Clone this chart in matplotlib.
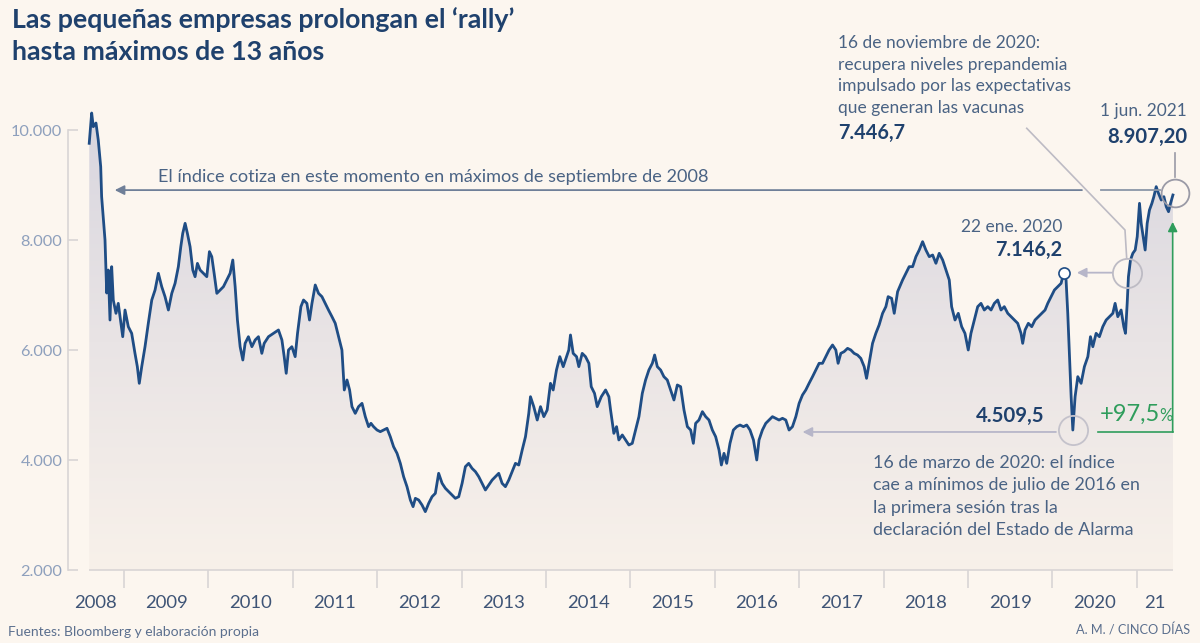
import numpy as np
import matplotlib.pyplot as plt
from matplotlib.colors import LinearSegmentedColormap

plt.rcParams['font.family'] = ['Lato', 'DejaVu Sans']

#%% datos (año decimal, valor del indice)
fechas_08_11 = [2008.588, 2008.617, 2008.636, 2008.668, 2008.695, 2008.724, 2008.735, 2008.775, 2008.795, 2008.814,
                2008.834, 2008.854, 2008.873, 2008.905, 2008.932, 2008.953, 2008.985, 2009.012, 2009.051, 2009.091,
                2009.130, 2009.158, 2009.181, 2009.210, 2009.249, 2009.288, 2009.329, 2009.368, 2009.407, 2009.447,
                2009.486, 2009.526, 2009.566, 2009.605, 2009.644, 2009.673, 2009.696, 2009.724, 2009.751, 2009.783,
                2009.815, 2009.842, 2009.870, 2009.902, 2009.941, 2009.981, 2010.012, 2010.040, 2010.068, 2010.100,
                2010.139, 2010.178, 2010.218, 2010.257, 2010.289, 2010.317, 2010.344, 2010.376, 2010.408, 2010.435,
                2010.474, 2010.515, 2010.554, 2010.593, 2010.633, 2010.661, 2010.712, 2010.771, 2010.830, 2010.871,
                2010.898, 2010.922, 2010.949, 2010.989, 2011.028, 2011.056, 2011.096, 2011.127, 2011.167, 2011.198,
                2011.227, 2011.266, 2011.305, 2011.345, 2011.384, 2011.423, 2011.464, 2011.503]
valores_08_11 = [9758, 10309, 10060, 10127, 9818, 9333, 8788, 8000, 7036, 7454,
                 6545, 7515, 6909, 6667, 6848, 6606, 6242, 6727, 6424, 6303,
                 5940, 5697, 5394, 5697, 6060, 6485, 6909, 7091, 7394, 7151,
                 6970, 6727, 7030, 7212, 7515, 7878, 8121, 8303, 8121, 7878,
                 7454, 7333, 7575, 7454, 7394, 7333, 7788, 7697, 7394, 7030,
                 7091, 7151, 7272, 7394, 7636, 7151, 6545, 6060, 5818, 6121,
                 6242, 6060, 6182, 6242, 5939, 6121, 6242, 6303, 6364, 6182,
                 5879, 5576, 6000, 6060, 5879, 6303, 6788, 6909, 6848, 6545,
                 6848, 7182, 7030, 6970, 6848, 6727, 6606, 6485]

fechas_11_14 = [2011.542, 2011.582, 2011.610, 2011.642, 2011.673, 2011.701, 2011.740, 2011.779, 2011.820, 2011.859,
                2011.898, 2011.926, 2011.957, 2011.998, 2012.037, 2012.076, 2012.116, 2012.155, 2012.194, 2012.235,
                2012.274, 2012.313, 2012.353, 2012.393, 2012.425, 2012.452, 2012.491, 2012.531, 2012.570, 2012.610,
                2012.650, 2012.689, 2012.728, 2012.769, 2012.808, 2012.847, 2012.887, 2012.926, 2012.966, 2013.006,
                2013.045, 2013.084, 2013.124, 2013.164, 2013.203, 2013.243, 2013.282, 2013.321, 2013.362, 2013.401,
                2013.440, 2013.480, 2013.519, 2013.559, 2013.599, 2013.638, 2013.677, 2013.718, 2013.757, 2013.796,
                2013.816, 2013.855, 2013.896, 2013.935, 2013.974, 2014.014, 2014.053, 2014.085, 2014.124, 2014.164,
                2014.204, 2014.243, 2014.270, 2014.290, 2014.322, 2014.362, 2014.389, 2014.429, 2014.468, 2014.508,
                2014.536, 2014.575, 2014.607, 2014.655, 2014.706, 2014.745, 2014.765]
valores_11_14 = [6242, 6000, 5273, 5455, 5273, 4970, 4848, 4970, 5030, 4788,
                 4606, 4667, 4606, 4545, 4515, 4545, 4576, 4424, 4242, 4121,
                 3939, 3697, 3515, 3273, 3152, 3303, 3273, 3182, 3061, 3212,
                 3333, 3394, 3758, 3576, 3485, 3424, 3364, 3303, 3333, 3576,
                 3879, 3939, 3848, 3788, 3697, 3576, 3455, 3545, 3636, 3697,
                 3758, 3576, 3515, 3636, 3788, 3939, 3909, 4182, 4424, 4848,
                 5151, 4970, 4727, 4970, 4788, 4909, 5394, 5273, 5636, 5879,
                 5697, 5879, 6000, 6273, 5939, 5879, 5697, 5939, 5879, 5758,
                 5333, 5212, 4970, 5151, 5273, 5151, 4909]

fechas_14_17 = [2014.804, 2014.836, 2014.863, 2014.904, 2014.943, 2014.982, 2015.022, 2015.061, 2015.101, 2015.141,
                2015.180, 2015.219, 2015.260, 2015.287, 2015.319, 2015.358, 2015.397, 2015.437, 2015.477, 2015.516,
                2015.556, 2015.595, 2015.635, 2015.675, 2015.714, 2015.746, 2015.773, 2015.812, 2015.853, 2015.892,
                2015.931, 2015.971, 2016.010, 2016.050, 2016.078, 2016.109, 2016.141, 2016.180, 2016.220, 2016.260,
                2016.299, 2016.339, 2016.378, 2016.417, 2016.458, 2016.497, 2016.524, 2016.564, 2016.604, 2016.643,
                2016.683, 2016.722, 2016.761, 2016.802, 2016.841, 2016.880, 2016.920, 2016.960, 2016.999, 2017.039,
                2017.078, 2017.117, 2017.158, 2017.197, 2017.236, 2017.276, 2017.315, 2017.354, 2017.395, 2017.434,
                2017.461, 2017.493, 2017.532, 2017.573, 2017.612, 2017.651, 2017.691, 2017.730, 2017.770, 2017.798,
                2017.829, 2017.869, 2017.908, 2017.947, 2017.988, 2018.027, 2018.054, 2018.095, 2018.126, 2018.166]
valores_14_17 = [4485, 4606, 4364, 4455, 4364, 4273, 4303, 4545, 4788, 5212,
                 5455, 5636, 5758, 5909, 5697, 5636, 5515, 5455, 5273, 5091,
                 5364, 5333, 4909, 4606, 4545, 4303, 4667, 4727, 4879, 4788,
                 4727, 4545, 4424, 4182, 3909, 4121, 3939, 4303, 4545, 4606,
                 4636, 4606, 4636, 4545, 4364, 4000, 4364, 4545, 4667, 4727,
                 4788, 4758, 4727, 4758, 4727, 4545, 4606, 4788, 5030, 5182,
                 5273, 5394, 5515, 5636, 5758, 5758, 5879, 6000, 6091, 6000,
                 5758, 5939, 5970, 6030, 6000, 5939, 5909, 5848, 5697, 5485,
                 5758, 6121, 6303, 6455, 6667, 6788, 6970, 6939, 6667, 7061]

fechas_18_21 = [2018.225, 2018.264, 2018.303, 2018.344, 2018.383, 2018.422, 2018.462, 2018.501, 2018.541, 2018.581,
                2018.620, 2018.659, 2018.700, 2018.739, 2018.778, 2018.806, 2018.846, 2018.885, 2018.925, 2018.964,
                2019.003, 2019.035, 2019.075, 2019.115, 2019.154, 2019.193, 2019.234, 2019.273, 2019.312, 2019.352,
                2019.391, 2019.430, 2019.471, 2019.510, 2019.549, 2019.589, 2019.628, 2019.648, 2019.676, 2019.715,
                2019.755, 2019.794, 2019.834, 2019.874, 2019.913, 2019.945, 2019.984, 2020.024, 2020.064, 2020.103,
                2020.135, 2020.162, 2020.182, 2020.201, 2020.222, 2020.242, 2020.269, 2020.301, 2020.340, 2020.379,
                2020.420, 2020.451, 2020.479, 2020.518, 2020.557, 2020.597, 2020.637, 2020.676, 2020.716, 2020.743,
                2020.775, 2020.814, 2020.846, 2020.866, 2020.886, 2020.901, 2020.925, 2020.953, 2020.981, 2021.005,
                2021.032, 2021.052, 2021.075, 2021.099, 2021.123, 2021.150, 2021.179, 2021.202, 2021.230, 2021.257,
                2021.290, 2021.321, 2021.349, 2021.376, 2021.400, 2021.428]
valores_18_21 = [7273, 7394, 7515, 7515, 7697, 7818, 7970, 7818, 7697, 7727,
                 7576, 7758, 7636, 7455, 7273, 6788, 6545, 6667, 6424, 6303,
                 6000, 6303, 6545, 6788, 6848, 6727, 6788, 6727, 6848, 6909,
                 6727, 6788, 6667, 6606, 6545, 6485, 6303, 6121, 6364, 6485,
                 6424, 6545, 6606, 6667, 6727, 6848, 6970, 7091, 7152, 7212,
                 7406, 7273, 6667, 5939, 5152, 4545, 5152, 5515, 5394, 5697,
                 5879, 6242, 6060, 6303, 6242, 6424, 6545, 6606, 6667, 6848,
                 6606, 6727, 6424, 6303, 6848, 7333, 7636, 7758, 7818, 8061,
                 8667, 8303, 8061, 7818, 8303, 8545, 8667, 8788, 8970, 8848,
                 8727, 8788, 8606, 8515, 8667, 8818]

etiquetas_anios = ['2008', '2009', '2010', '2011', '2012', '2013', '2014',
                   '2015', '2016', '2017', '2018', '2019', '2020', '21']
ticks_y = [2000, 4000, 6000, 8000, 10000]

nivel_sep_2008 = 8907.2     # 1 jun. 2021
nivel_nov_2020 = 7406       # nivel donde se marca la recuperacion
fecha_nov_2020 = 2020.880

fechas = np.array(fechas_08_11 + fechas_11_14 + fechas_14_17 + fechas_18_21)
valores = np.array(valores_08_11 + valores_11_14 + valores_14_17 + valores_18_21, dtype=float)

#%% colores
FONDO = '#fcf6ef'
AZUL = '#1f4d85'
TITULO = '#1f416d'
TEXTO = '#4a6384'
GRIS = '#d9d5d5'
FLECHA = '#b7b6c9'
VERDE = '#2f9d5c'

W, H = 1200, 643
fig = plt.figure(figsize=(W / 100, H / 100), dpi=100, facecolor=FONDO)

def fx(x):
    return x / W

def fy(y):
    return 1 - y / H

# eje: px 60..1190 horizontal, px 100..600 vertical
ax = fig.add_axes([fx(60), fy(600), (1190 - 60) / W, 500 / H])
ax.set_facecolor(FONDO)
px_anio = 84.4
ax.set_xlim(2009 + (60 - 124) / px_anio, 2009 + (1190 - 124) / px_anio)
v_px = 2000 / 110
ax.set_ylim(10000 - 470 * v_px, 10000 + 30 * v_px)

# relleno degradado bajo la linea
poly = ax.fill_between(fechas, valores, 2000, facecolor='none', edgecolor='none')
cmap = LinearSegmentedColormap.from_list('deg', ['#f8f1ea', '#e9e4e5', '#d8d6df'])
grad = np.linspace(0, 1, 256).reshape(-1, 1)
im = ax.imshow(grad, cmap=cmap, aspect='auto', origin='lower',
               extent=[fechas[0], fechas[-1], 2000, valores.max()], zorder=1)
im.set_clip_path(poly.get_paths()[0], transform=ax.transData)

ax.plot(fechas, valores, color=AZUL, lw=2.0, zorder=3, solid_joinstyle='round')

# ejes
for s in ['top', 'right', 'bottom']:
    ax.spines[s].set_visible(False)
ax.spines['left'].set_position(('axes', 8 / 1130))
ax.spines['left'].set_bounds(2000, 10000)
ax.spines['left'].set_color(GRIS)
ax.spines['left'].set_linewidth(1.2)
ax.set_yticks(ticks_y)
ax.set_yticklabels([f'{v:,}'.replace(',', '.') for v in ticks_y])
ax.tick_params(axis='y', direction='in', length=7, width=1.2, color=GRIS,
               labelcolor='#8ea0bd', labelsize=11.8, pad=4)
ax.set_xticks([])

ax.hlines(2000, fechas[0], fechas[-1], color=GRIS, lw=1.2, zorder=2)
xt = ax.get_xaxis_transform()
limites = np.arange(2009, 2022)
ax.vlines(limites, 0.024, 0.06, transform=xt, color=GRIS, lw=1.2)
pos_etq = [2008.66] + list(np.arange(2009, 2021) + 0.5) + [2021.22]
for p, e in zip(pos_etq, etiquetas_anios):
    ax.text(p, -0.006, e, transform=xt, ha='center', va='center',
            fontsize=13.3, color='#3e5476')

#%% anotaciones
# flecha horizontal a maximos de sep. 2008
ax.annotate('', xy=(2008.89, nivel_sep_2008), xytext=(2020.35, nivel_sep_2008),
            arrowprops=dict(arrowstyle='-|>', color='#6f7f98', lw=1.3, mutation_scale=14,
                            shrinkA=0, shrinkB=0), zorder=4)
ax.plot([2020.57, 2021.28], [nivel_sep_2008] * 2, color='#8a96a8', lw=1.3, zorder=4)
fig.text(fx(158), fy(177), 'El índice cotiza en este momento en máximos de septiembre de 2008',
         fontsize=13.1, color=TEXTO, va='center')

# circulo final
ax.plot(fechas[-1] + 0.02, nivel_sep_2008 - 50, 'o', ms=20, mfc='none', mec='#9a9aa6', mew=1.3, zorder=5)
ax.plot([fechas[-1] + 0.02] * 2, [9580, 9140], color='#9a9aa6', lw=1.2)
fig.text(fx(1187), fy(111), '1 jun. 2021', fontsize=12.5, color=TEXTO, ha='right', va='center')
fig.text(fx(1187), fy(137), '8.907,20', fontsize=14.6, weight='bold', color=TITULO, ha='right', va='center')

# noviembre 2020
ax.plot([2019.696, 2020.860, fecha_nov_2020], [10031, 8182, 7673], color='#bdbbc4', lw=1.2, zorder=4)
ax.plot(fecha_nov_2020, nivel_nov_2020, 'o', ms=21, mfc='none', mec='#bdbbc4', mew=1.3, zorder=5)
ax.annotate('', xy=(2020.29, nivel_nov_2020), xytext=(2020.705, nivel_nov_2020),
            arrowprops=dict(arrowstyle='-|>', color=FLECHA, lw=1.3, mutation_scale=14,
                            shrinkA=0, shrinkB=0), zorder=4)
nov_txt = ['16 de noviembre de 2020:', 'recupera niveles prepandemia',
           'impulsado por las expectativas', 'que generan las vacunas']
for i, t in enumerate(nov_txt):
    fig.text(fx(838), fy(43 + 21.7 * i), t, fontsize=12.5, color=TEXTO, va='center')
fig.text(fx(838), fy(133), '7.446,7', fontsize=14.3, weight='bold', color=TITULO, va='center')

# enero 2020
i_pico = np.argmax(np.where(fechas > 2019.5, valores, 0) * (fechas < 2020.2))
ax.plot(fechas[i_pico], valores[i_pico], 'o', ms=8, mfc='white', mec=AZUL, mew=1.2, zorder=6)
fig.text(fx(1062), fy(227), '22 ene. 2020', fontsize=12.5, color=TEXTO, ha='right', va='center')
fig.text(fx(1062), fy(250), '7.146,2', fontsize=14.3, weight='bold', color=TITULO, ha='right', va='center')

# minimo marzo 2020
i_min = np.argmin(np.where(fechas > 2020, valores, 1e9))
ax.plot(fechas[i_min], valores[i_min], 'o', ms=21, mfc='none', mec='#c4c2cb', mew=1.3, zorder=5)
ax.annotate('', xy=(2017.04, 4509.5), xytext=(fechas[i_min] - 0.2, 4509.5),
            arrowprops=dict(arrowstyle='-|>', color=FLECHA, lw=1.3, mutation_scale=14,
                            shrinkA=0, shrinkB=0), zorder=4)
fig.text(fx(1045), fy(416), '4.509,5', fontsize=14.6, weight='bold', color=TITULO, ha='right', va='center')
mar_txt = ['16 de marzo de 2020: el índice', 'cae a mínimos de julio de 2016 en',
           'la primera sesión tras la', 'declaración del Estado de Alarma']
for i, t in enumerate(mar_txt):
    fig.text(fx(873), fy(463 + 22.3 * i), t, fontsize=12.9, color=TEXTO, va='center')

# subida desde minimos
x_v = 2021.425
ax.plot([2020.54, x_v], [4509.5, 4509.5], color=VERDE, lw=1.2, zorder=4)
ax.annotate('', xy=(x_v, 8330), xytext=(x_v, 4509.5),
            arrowprops=dict(arrowstyle='-|>', color=VERDE, lw=1.2, mutation_scale=14,
                            shrinkA=0, shrinkB=0), zorder=4)
fig.text(fx(1173), fy(421), '%', fontsize=12, color=VERDE, ha='right', va='baseline')
fig.text(fx(1160), fy(421), '+97,5', fontsize=17, color=VERDE, ha='right', va='baseline')

#%% titulo y pie
fig.text(fx(12), fy(20), 'Las pequeñas empresas prolongan el ‘rally’', fontsize=19.3,
         weight='bold', color=TITULO, va='center')
fig.text(fx(12), fy(52), 'hasta máximos de 13 años', fontsize=19.3,
         weight='bold', color=TITULO, va='center')
fig.text(fx(8), fy(632), 'Fuentes: Bloomberg y elaboración propia', fontsize=10,
         color='#5b6f8e', va='center')
fig.text(fx(1190), fy(630), 'A. M. / CINCO DÍAS', fontsize=9.2, color='#5b6f8e',
         ha='right', va='center')

fig.savefig('out.png', dpi=100, facecolor=FONDO)
